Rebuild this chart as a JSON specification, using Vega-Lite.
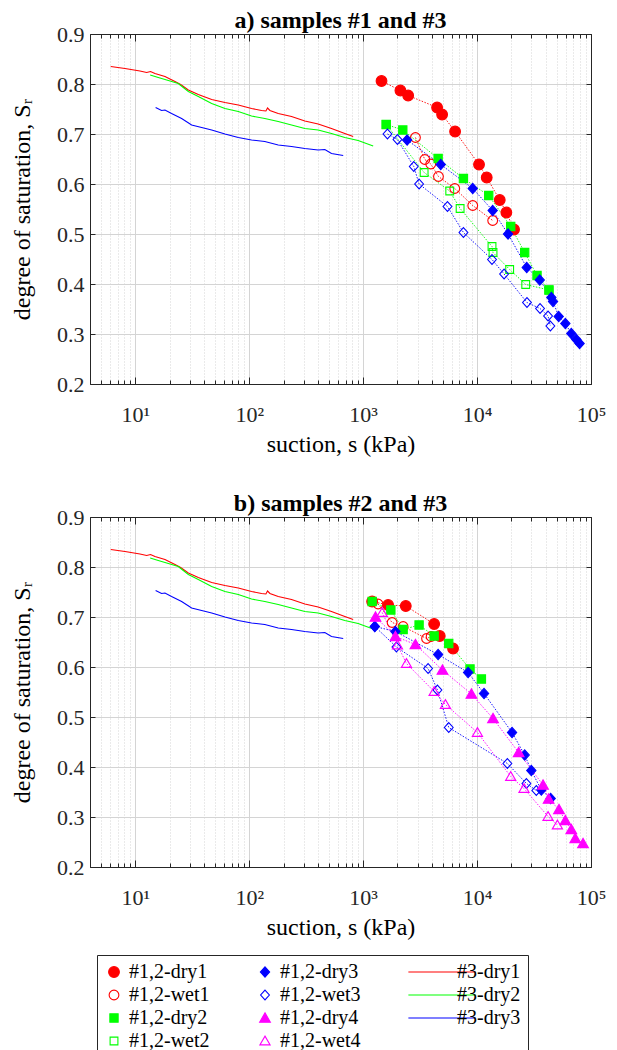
{
  "$schema": "https://vega.github.io/schema/vega-lite/v6.json",
  "background": "white",
  "padding": {"left": 10, "top": 8, "right": 5, "bottom": 5},
  "datasets": {
    "lab": [
      {"series": "#3-dry1", "s": 6.08, "Sr": 0.835}, {"series": "#3-dry1", "s": 8.11, "Sr": 0.831}, {"series": "#3-dry1", "s": 10.98, "Sr": 0.826}, {"series": "#3-dry1", "s": 12.57, "Sr": 0.823}, {"series": "#3-dry1", "s": 13.6, "Sr": 0.825}, {"series": "#3-dry1", "s": 14.87, "Sr": 0.821}, {"series": "#3-dry1", "s": 18.2, "Sr": 0.815}, {"series": "#3-dry1", "s": 22.3, "Sr": 0.805}, {"series": "#3-dry1", "s": 25.0, "Sr": 0.799}, {"series": "#3-dry1", "s": 29.2, "Sr": 0.788}, {"series": "#3-dry1", "s": 35.7, "Sr": 0.779}, {"series": "#3-dry1", "s": 46.8, "Sr": 0.769}, {"series": "#3-dry1", "s": 61.2, "Sr": 0.763}, {"series": "#3-dry1", "s": 80.1, "Sr": 0.758}, {"series": "#3-dry1", "s": 104.8, "Sr": 0.751}, {"series": "#3-dry1", "s": 128.2, "Sr": 0.747}, {"series": "#3-dry1", "s": 140, "Sr": 0.746}, {"series": "#3-dry1", "s": 144.8, "Sr": 0.752}, {"series": "#3-dry1", "s": 151.8, "Sr": 0.747}, {"series": "#3-dry1", "s": 179.6, "Sr": 0.741}, {"series": "#3-dry1", "s": 235, "Sr": 0.735}, {"series": "#3-dry1", "s": 307.7, "Sr": 0.726}, {"series": "#3-dry1", "s": 402.7, "Sr": 0.720}, {"series": "#3-dry1", "s": 527, "Sr": 0.711}, {"series": "#3-dry1", "s": 690, "Sr": 0.701}, {"series": "#3-dry1", "s": 817, "Sr": 0.695},
      {"series": "#3-dry2", "s": 13.5, "Sr": 0.818}, {"series": "#3-dry2", "s": 15.9, "Sr": 0.813}, {"series": "#3-dry2", "s": 19.5, "Sr": 0.807}, {"series": "#3-dry2", "s": 23.8, "Sr": 0.801}, {"series": "#3-dry2", "s": 29.2, "Sr": 0.785}, {"series": "#3-dry2", "s": 35.7, "Sr": 0.775}, {"series": "#3-dry2", "s": 46.8, "Sr": 0.761}, {"series": "#3-dry2", "s": 61.2, "Sr": 0.751}, {"series": "#3-dry2", "s": 80.1, "Sr": 0.745}, {"series": "#3-dry2", "s": 104.8, "Sr": 0.736}, {"series": "#3-dry2", "s": 137, "Sr": 0.731}, {"series": "#3-dry2", "s": 179.6, "Sr": 0.725}, {"series": "#3-dry2", "s": 235, "Sr": 0.718}, {"series": "#3-dry2", "s": 307.7, "Sr": 0.711}, {"series": "#3-dry2", "s": 402.7, "Sr": 0.708}, {"series": "#3-dry2", "s": 527, "Sr": 0.701}, {"series": "#3-dry2", "s": 690, "Sr": 0.693}, {"series": "#3-dry2", "s": 903, "Sr": 0.687}, {"series": "#3-dry2", "s": 1224, "Sr": 0.676},
      {"series": "#3-dry3", "s": 15.07, "Sr": 0.753}, {"series": "#3-dry3", "s": 17.0, "Sr": 0.747}, {"series": "#3-dry3", "s": 18.2, "Sr": 0.748}, {"series": "#3-dry3", "s": 20.8, "Sr": 0.741}, {"series": "#3-dry3", "s": 25.5, "Sr": 0.731}, {"series": "#3-dry3", "s": 31.2, "Sr": 0.718}, {"series": "#3-dry3", "s": 38.2, "Sr": 0.713}, {"series": "#3-dry3", "s": 46.8, "Sr": 0.708}, {"series": "#3-dry3", "s": 61.2, "Sr": 0.700}, {"series": "#3-dry3", "s": 80.1, "Sr": 0.693}, {"series": "#3-dry3", "s": 104.8, "Sr": 0.688}, {"series": "#3-dry3", "s": 137, "Sr": 0.685}, {"series": "#3-dry3", "s": 179.6, "Sr": 0.678}, {"series": "#3-dry3", "s": 235, "Sr": 0.675}, {"series": "#3-dry3", "s": 307.7, "Sr": 0.671}, {"series": "#3-dry3", "s": 402.7, "Sr": 0.668}, {"series": "#3-dry3", "s": 461, "Sr": 0.669}, {"series": "#3-dry3", "s": 527, "Sr": 0.661}, {"series": "#3-dry3", "s": 668, "Sr": 0.657}
    ],
    "pts": [
      {"panel": "a", "series": "#1,2-dry1", "i": 1, "s": 1449, "Sr": 0.806}, {"panel": "a", "series": "#1,2-dry1", "i": 2, "s": 2123, "Sr": 0.787}, {"panel": "a", "series": "#1,2-dry1", "i": 3, "s": 2483, "Sr": 0.777}, {"panel": "a", "series": "#1,2-dry1", "i": 4, "s": 4457, "Sr": 0.753}, {"panel": "a", "series": "#1,2-dry1", "i": 5, "s": 4932, "Sr": 0.739}, {"panel": "a", "series": "#1,2-dry1", "i": 6, "s": 6412, "Sr": 0.705}, {"panel": "a", "series": "#1,2-dry1", "i": 7, "s": 10400, "Sr": 0.639}, {"panel": "a", "series": "#1,2-dry1", "i": 8, "s": 12150, "Sr": 0.613}, {"panel": "a", "series": "#1,2-dry1", "i": 9, "s": 15810, "Sr": 0.568}, {"panel": "a", "series": "#1,2-dry1", "i": 10, "s": 18070, "Sr": 0.543}, {"panel": "a", "series": "#1,2-dry1", "i": 11, "s": 21100, "Sr": 0.509},
      {"panel": "a", "series": "#1,2-wet1", "i": 1, "s": 2877, "Sr": 0.693}, {"panel": "a", "series": "#1,2-wet1", "i": 2, "s": 3475, "Sr": 0.649}, {"panel": "a", "series": "#1,2-wet1", "i": 3, "s": 3920, "Sr": 0.640}, {"panel": "a", "series": "#1,2-wet1", "i": 4, "s": 4581, "Sr": 0.615}, {"panel": "a", "series": "#1,2-wet1", "i": 5, "s": 6368, "Sr": 0.591}, {"panel": "a", "series": "#1,2-wet1", "i": 6, "s": 9160, "Sr": 0.557}, {"panel": "a", "series": "#1,2-wet1", "i": 7, "s": 13710, "Sr": 0.527},
      {"panel": "a", "series": "#1,2-dry2", "i": 1, "s": 1592, "Sr": 0.719}, {"panel": "a", "series": "#1,2-dry2", "i": 2, "s": 2228, "Sr": 0.708}, {"panel": "a", "series": "#1,2-dry2", "i": 3, "s": 4550, "Sr": 0.651}, {"panel": "a", "series": "#1,2-dry2", "i": 4, "s": 7590, "Sr": 0.611}, {"panel": "a", "series": "#1,2-dry2", "i": 5, "s": 12650, "Sr": 0.577}, {"panel": "a", "series": "#1,2-dry2", "i": 6, "s": 19730, "Sr": 0.515}, {"panel": "a", "series": "#1,2-dry2", "i": 7, "s": 26180, "Sr": 0.463}, {"panel": "a", "series": "#1,2-dry2", "i": 8, "s": 33590, "Sr": 0.417}, {"panel": "a", "series": "#1,2-dry2", "i": 9, "s": 42760, "Sr": 0.388},
      {"panel": "a", "series": "#1,2-wet2", "i": 1, "s": 1592, "Sr": 0.719}, {"panel": "a", "series": "#1,2-wet2", "i": 2, "s": 3428, "Sr": 0.623}, {"panel": "a", "series": "#1,2-wet2", "i": 3, "s": 5754, "Sr": 0.586}, {"panel": "a", "series": "#1,2-wet2", "i": 4, "s": 7096, "Sr": 0.551}, {"panel": "a", "series": "#1,2-wet2", "i": 5, "s": 13520, "Sr": 0.475}, {"panel": "a", "series": "#1,2-wet2", "i": 6, "s": 13800, "Sr": 0.463}, {"panel": "a", "series": "#1,2-wet2", "i": 7, "s": 19320, "Sr": 0.429}, {"panel": "a", "series": "#1,2-wet2", "i": 8, "s": 26730, "Sr": 0.399}, {"panel": "a", "series": "#1,2-wet2", "i": 9, "s": 42760, "Sr": 0.388},
      {"panel": "a", "series": "#1,2-dry3", "i": 1, "s": 2432, "Sr": 0.688}, {"panel": "a", "series": "#1,2-dry3", "i": 2, "s": 4797, "Sr": 0.639}, {"panel": "a", "series": "#1,2-dry3", "i": 3, "s": 9160, "Sr": 0.591}, {"panel": "a", "series": "#1,2-dry3", "i": 4, "s": 13710, "Sr": 0.547}, {"panel": "a", "series": "#1,2-dry3", "i": 5, "s": 18700, "Sr": 0.500}, {"panel": "a", "series": "#1,2-dry3", "i": 6, "s": 27290, "Sr": 0.433}, {"panel": "a", "series": "#1,2-dry3", "i": 7, "s": 35480, "Sr": 0.408}, {"panel": "a", "series": "#1,2-dry3", "i": 8, "s": 44870, "Sr": 0.373}, {"panel": "a", "series": "#1,2-dry3", "i": 9, "s": 46420, "Sr": 0.365}, {"panel": "a", "series": "#1,2-dry3", "i": 10, "s": 52050, "Sr": 0.335}, {"panel": "a", "series": "#1,2-dry3", "i": 11, "s": 59540, "Sr": 0.321}, {"panel": "a", "series": "#1,2-dry3", "i": 12, "s": 67140, "Sr": 0.301}, {"panel": "a", "series": "#1,2-dry3", "i": 13, "s": 74300, "Sr": 0.289}, {"panel": "a", "series": "#1,2-dry3", "i": 14, "s": 79430, "Sr": 0.281},
      {"panel": "a", "series": "#1,2-wet3", "i": 1, "s": 1634, "Sr": 0.700}, {"panel": "a", "series": "#1,2-wet3", "i": 2, "s": 2000, "Sr": 0.689}, {"panel": "a", "series": "#1,2-wet3", "i": 3, "s": 2781, "Sr": 0.635}, {"panel": "a", "series": "#1,2-wet3", "i": 4, "s": 3097, "Sr": 0.600}, {"panel": "a", "series": "#1,2-wet3", "i": 5, "s": 5495, "Sr": 0.555}, {"panel": "a", "series": "#1,2-wet3", "i": 6, "s": 7590, "Sr": 0.503}, {"panel": "a", "series": "#1,2-wet3", "i": 7, "s": 13520, "Sr": 0.449}, {"panel": "a", "series": "#1,2-wet3", "i": 8, "s": 17260, "Sr": 0.420}, {"panel": "a", "series": "#1,2-wet3", "i": 9, "s": 27420, "Sr": 0.363}, {"panel": "a", "series": "#1,2-wet3", "i": 10, "s": 35700, "Sr": 0.351}, {"panel": "a", "series": "#1,2-wet3", "i": 11, "s": 41980, "Sr": 0.336}, {"panel": "a", "series": "#1,2-wet3", "i": 12, "s": 43990, "Sr": 0.316},
      {"panel": "b", "series": "#1,2-dry1", "i": 1, "s": 1199, "Sr": 0.731}, {"panel": "b", "series": "#1,2-dry1", "i": 2, "s": 1656, "Sr": 0.724}, {"panel": "b", "series": "#1,2-dry1", "i": 3, "s": 2366, "Sr": 0.722}, {"panel": "b", "series": "#1,2-dry1", "i": 4, "s": 4198, "Sr": 0.686}, {"panel": "b", "series": "#1,2-dry1", "i": 5, "s": 4702, "Sr": 0.662}, {"panel": "b", "series": "#1,2-dry1", "i": 6, "s": 6151, "Sr": 0.637},
      {"panel": "b", "series": "#1,2-wet1", "i": 1, "s": 1352, "Sr": 0.726}, {"panel": "b", "series": "#1,2-wet1", "i": 2, "s": 1795, "Sr": 0.689}, {"panel": "b", "series": "#1,2-wet1", "i": 3, "s": 2243, "Sr": 0.681}, {"panel": "b", "series": "#1,2-wet1", "i": 4, "s": 3600, "Sr": 0.657}, {"panel": "b", "series": "#1,2-wet1", "i": 5, "s": 3950, "Sr": 0.661},
      {"panel": "b", "series": "#1,2-dry2", "i": 1, "s": 1199, "Sr": 0.731}, {"panel": "b", "series": "#1,2-dry2", "i": 2, "s": 1750, "Sr": 0.714}, {"panel": "b", "series": "#1,2-dry2", "i": 3, "s": 2243, "Sr": 0.675}, {"panel": "b", "series": "#1,2-dry2", "i": 4, "s": 3097, "Sr": 0.684}, {"panel": "b", "series": "#1,2-dry2", "i": 5, "s": 4198, "Sr": 0.662}, {"panel": "b", "series": "#1,2-dry2", "i": 6, "s": 5640, "Sr": 0.647}, {"panel": "b", "series": "#1,2-dry2", "i": 7, "s": 8670, "Sr": 0.596}, {"panel": "b", "series": "#1,2-dry2", "i": 8, "s": 10910, "Sr": 0.576},
      {"panel": "b", "series": "#1,2-dry3", "i": 1, "s": 1265, "Sr": 0.681}, {"panel": "b", "series": "#1,2-dry3", "i": 2, "s": 1919, "Sr": 0.671}, {"panel": "b", "series": "#1,2-dry3", "i": 3, "s": 4550, "Sr": 0.625}, {"panel": "b", "series": "#1,2-dry3", "i": 4, "s": 8340, "Sr": 0.589}, {"panel": "b", "series": "#1,2-dry3", "i": 5, "s": 11510, "Sr": 0.547}, {"panel": "b", "series": "#1,2-dry3", "i": 6, "s": 20280, "Sr": 0.469}, {"panel": "b", "series": "#1,2-dry3", "i": 7, "s": 26180, "Sr": 0.424}, {"panel": "b", "series": "#1,2-dry3", "i": 8, "s": 29930, "Sr": 0.393}, {"panel": "b", "series": "#1,2-dry3", "i": 9, "s": 36640, "Sr": 0.354}, {"panel": "b", "series": "#1,2-dry3", "i": 10, "s": 44260, "Sr": 0.337},
      {"panel": "b", "series": "#1,2-wet3", "i": 1, "s": 1265, "Sr": 0.681}, {"panel": "b", "series": "#1,2-wet3", "i": 2, "s": 1958, "Sr": 0.640}, {"panel": "b", "series": "#1,2-wet3", "i": 3, "s": 3715, "Sr": 0.597}, {"panel": "b", "series": "#1,2-wet3", "i": 4, "s": 4487, "Sr": 0.554}, {"panel": "b", "series": "#1,2-wet3", "i": 5, "s": 5640, "Sr": 0.479}, {"panel": "b", "series": "#1,2-wet3", "i": 6, "s": 18450, "Sr": 0.407}, {"panel": "b", "series": "#1,2-wet3", "i": 7, "s": 27100, "Sr": 0.367}, {"panel": "b", "series": "#1,2-wet3", "i": 8, "s": 33110, "Sr": 0.353},
      {"panel": "b", "series": "#1,2-dry4", "i": 1, "s": 1283, "Sr": 0.700}, {"panel": "b", "series": "#1,2-dry4", "i": 2, "s": 1919, "Sr": 0.661}, {"panel": "b", "series": "#1,2-dry4", "i": 3, "s": 2877, "Sr": 0.645}, {"panel": "b", "series": "#1,2-dry4", "i": 4, "s": 4966, "Sr": 0.594}, {"panel": "b", "series": "#1,2-dry4", "i": 5, "s": 8913, "Sr": 0.546}, {"panel": "b", "series": "#1,2-dry4", "i": 6, "s": 13800, "Sr": 0.497}, {"panel": "b", "series": "#1,2-dry4", "i": 7, "s": 23170, "Sr": 0.429}, {"panel": "b", "series": "#1,2-dry4", "i": 8, "s": 37930, "Sr": 0.364}, {"panel": "b", "series": "#1,2-dry4", "i": 9, "s": 42460, "Sr": 0.336}, {"panel": "b", "series": "#1,2-dry4", "i": 10, "s": 52360, "Sr": 0.315}, {"panel": "b", "series": "#1,2-dry4", "i": 11, "s": 59540, "Sr": 0.293}, {"panel": "b", "series": "#1,2-dry4", "i": 12, "s": 67140, "Sr": 0.275}, {"panel": "b", "series": "#1,2-dry4", "i": 13, "s": 72780, "Sr": 0.257}, {"panel": "b", "series": "#1,2-dry4", "i": 14, "s": 85110, "Sr": 0.247},
      {"panel": "b", "series": "#1,2-wet4", "i": 1, "s": 1469, "Sr": 0.709}, {"panel": "b", "series": "#1,2-wet4", "i": 2, "s": 2000, "Sr": 0.644}, {"panel": "b", "series": "#1,2-wet4", "i": 3, "s": 2399, "Sr": 0.607}, {"panel": "b", "series": "#1,2-wet4", "i": 4, "s": 4198, "Sr": 0.551}, {"panel": "b", "series": "#1,2-wet4", "i": 5, "s": 5272, "Sr": 0.525}, {"panel": "b", "series": "#1,2-wet4", "i": 6, "s": 10070, "Sr": 0.469}, {"panel": "b", "series": "#1,2-wet4", "i": 7, "s": 19730, "Sr": 0.381}, {"panel": "b", "series": "#1,2-wet4", "i": 8, "s": 25820, "Sr": 0.357}, {"panel": "b", "series": "#1,2-wet4", "i": 9, "s": 41980, "Sr": 0.301}, {"panel": "b", "series": "#1,2-wet4", "i": 10, "s": 50700, "Sr": 0.284}
    ]
  },
  "spacing": 34,
  "vconcat": [
    {
      "width": 501, "height": 350,
      "title": {"text": "a) samples #1 and #3"},
      "resolve": {"axis": {"x": "independent", "y": "independent"}},
      "layer": [
        {
          "data": {"name": "lab"},
          "mark": {"type": "line", "strokeWidth": 1.1},
          "encoding": {
            "x": {"field": "s", "type": "quantitative", "scale": {"type": "log", "domain": [4, 100000], "nice": false},
              "axis": {"orient": "bottom", "title": "suction, s (kPa)", "values": [5,6,7,8,9,10,20,30,40,50,60,70,80,90,100,200,300,400,500,600,700,800,900,1000,2000,3000,4000,5000,6000,7000,8000,9000,10000,20000,30000,40000,50000,60000,70000,80000,90000,100000],
                "labelExpr": "datum.value==10?'10¹':datum.value==100?'10²':datum.value==1000?'10³':datum.value==10000?'10⁴':datum.value==100000?'10⁵':''",
                "grid": true, "gridDash": {"condition": {"test": "datum.value==10||datum.value==100||datum.value==1000||datum.value==10000||datum.value==100000", "value": []}, "value": [1, 2]},
                "tickSize": {"condition": {"test": "datum.value==10||datum.value==100||datum.value==1000||datum.value==10000||datum.value==100000", "value": -7}, "value": -4},
                "labelPadding": 27, "titlePadding": 4, "labelOverlap": false, "labelFlush": false, "labelBound": false}},
            "y": {"field": "Sr", "type": "quantitative", "scale": {"domain": [0.2, 0.9], "nice": false, "zero": false},
              "axis": {"orient": "left", "title": "degree of saturation, Sᵣ", "values": [0.2,0.3,0.4,0.5,0.6,0.7,0.8,0.9], "format": ".1f", "grid": true, "tickSize": -5, "labelPadding": 11, "titlePadding": 22}},
            "color": {"field": "series", "type": "nominal", "legend": {"title": null},
              "scale": {"domain": ["#1,2-dry1","#1,2-wet1","#1,2-dry2","#1,2-wet2","#1,2-dry3","#1,2-wet3","#1,2-dry4","#1,2-wet4","#3-dry1","#3-dry2","#3-dry3"],
                        "range": ["#ff0000","#ff0000","#00ff00","#00ff00","#0000ff","#0000ff","#ff00ff","#ff00ff","#ff0000","#00ff00","#0000ff"]}}
          }
        },
        {
          "data": {"name": "pts"},
          "transform": [{"filter": "datum.panel=='a'"}],
          "mark": {"type": "line", "strokeWidth": 0.9, "strokeDash": [1.5, 1.5]},
          "encoding": {
            "x": {"field": "s", "type": "quantitative", "scale": {"type": "log", "domain": [4, 100000], "nice": false},
              "axis": {"orient": "top", "title": null, "labels": false, "grid": false, "values": [5,6,7,8,9,10,20,30,40,50,60,70,80,90,100,200,300,400,500,600,700,800,900,1000,2000,3000,4000,5000,6000,7000,8000,9000,10000,20000,30000,40000,50000,60000,70000,80000,90000,100000],
                "tickSize": {"condition": {"test": "datum.value==10||datum.value==100||datum.value==1000||datum.value==10000||datum.value==100000", "value": -7}, "value": -4}}},
            "y": {"field": "Sr", "type": "quantitative", "scale": {"domain": [0.2, 0.9], "nice": false, "zero": false},
              "axis": {"orient": "right", "title": null, "labels": false, "grid": false, "values": [0.2,0.3,0.4,0.5,0.6,0.7,0.8,0.9], "tickSize": -5}},
            "color": {"field": "series", "type": "nominal", "legend": {"title": null}},
            "order": {"field": "i", "type": "quantitative"}
          }
        },
        {
          "data": {"name": "pts"},
          "transform": [{"filter": "datum.panel=='a'"}],
          "mark": {"type": "point", "filled": false, "strokeWidth": 1.1, "opacity": 1, "size": 95},
          "encoding": {
            "x": {"field": "s", "type": "quantitative", "scale": {"type": "log", "domain": [4, 100000], "nice": false}, "axis": null},
            "y": {"field": "Sr", "type": "quantitative", "scale": {"domain": [0.2, 0.9], "nice": false, "zero": false}, "axis": null},
            "color": {"field": "series", "type": "nominal", "legend": {"title": null}},
            "shape": {"field": "series", "type": "nominal", "legend": {"title": null},
              "scale": {"domain": ["#1,2-dry1","#1,2-wet1","#1,2-dry2","#1,2-wet2","#1,2-dry3","#1,2-wet3","#1,2-dry4","#1,2-wet4","#3-dry1","#3-dry2","#3-dry3"],
                        "range": [
                          "M1.1,0A1.1,1.1 0 1,1 -1.1,0A1.1,1.1 0 1,1 1.1,0Z",
                          "M1,0A1,1 0 1,1 -1,0A1,1 0 1,1 1,0Z",
                          "M-0.85,-0.85H0.85V0.85H-0.85Z",
                          "M-0.8,-0.8H0.8V0.8H-0.8Z",
                          "M0,-1.05L0.95,0L0,1.05L-0.95,0Z",
                          "M0,-1L0.9,0L0,1L-0.9,0Z",
                          "M0,-1.05L1.1,0.85L-1.1,0.85Z",
                          "M0,-1L1.05,0.8L-1.05,0.8Z",
                          "M-6.9,0H6.9", "M-6.9,0H6.9", "M-6.9,0H6.9"]}},
            "fill": {"field": "series", "type": "nominal", "legend": {"title": null},
              "scale": {"domain": ["#1,2-dry1","#1,2-wet1","#1,2-dry2","#1,2-wet2","#1,2-dry3","#1,2-wet3","#1,2-dry4","#1,2-wet4","#3-dry1","#3-dry2","#3-dry3"],
                        "range": ["#ff0000","transparent","#00ff00","transparent","#0000ff","transparent","#ff00ff","transparent","transparent","transparent","transparent"]}}
          }
        }
      ]
    },
    {
      "width": 501, "height": 350,
      "title": {"text": "b) samples #2 and #3"},
      "resolve": {"axis": {"x": "independent", "y": "independent"}},
      "layer": [
        {
          "data": {"name": "lab"},
          "mark": {"type": "line", "strokeWidth": 1.1},
          "encoding": {
            "x": {"field": "s", "type": "quantitative", "scale": {"type": "log", "domain": [4, 100000], "nice": false},
              "axis": {"orient": "bottom", "title": "suction, s (kPa)", "values": [5,6,7,8,9,10,20,30,40,50,60,70,80,90,100,200,300,400,500,600,700,800,900,1000,2000,3000,4000,5000,6000,7000,8000,9000,10000,20000,30000,40000,50000,60000,70000,80000,90000,100000],
                "labelExpr": "datum.value==10?'10¹':datum.value==100?'10²':datum.value==1000?'10³':datum.value==10000?'10⁴':datum.value==100000?'10⁵':''",
                "grid": true, "gridDash": {"condition": {"test": "datum.value==10||datum.value==100||datum.value==1000||datum.value==10000||datum.value==100000", "value": []}, "value": [1, 2]},
                "tickSize": {"condition": {"test": "datum.value==10||datum.value==100||datum.value==1000||datum.value==10000||datum.value==100000", "value": -7}, "value": -4},
                "labelPadding": 27, "titlePadding": 4, "labelOverlap": false, "labelFlush": false, "labelBound": false}},
            "y": {"field": "Sr", "type": "quantitative", "scale": {"domain": [0.2, 0.9], "nice": false, "zero": false},
              "axis": {"orient": "left", "title": "degree of saturation, Sᵣ", "values": [0.2,0.3,0.4,0.5,0.6,0.7,0.8,0.9], "format": ".1f", "grid": true, "tickSize": -5, "labelPadding": 11, "titlePadding": 22}},
            "color": {"field": "series", "type": "nominal", "legend": {"title": null}}
          }
        },
        {
          "data": {"name": "pts"},
          "transform": [{"filter": "datum.panel=='b'"}],
          "mark": {"type": "line", "strokeWidth": 0.9, "strokeDash": [1.5, 1.5]},
          "encoding": {
            "x": {"field": "s", "type": "quantitative", "scale": {"type": "log", "domain": [4, 100000], "nice": false},
              "axis": {"orient": "top", "title": null, "labels": false, "grid": false, "values": [5,6,7,8,9,10,20,30,40,50,60,70,80,90,100,200,300,400,500,600,700,800,900,1000,2000,3000,4000,5000,6000,7000,8000,9000,10000,20000,30000,40000,50000,60000,70000,80000,90000,100000],
                "tickSize": {"condition": {"test": "datum.value==10||datum.value==100||datum.value==1000||datum.value==10000||datum.value==100000", "value": -7}, "value": -4}}},
            "y": {"field": "Sr", "type": "quantitative", "scale": {"domain": [0.2, 0.9], "nice": false, "zero": false},
              "axis": {"orient": "right", "title": null, "labels": false, "grid": false, "values": [0.2,0.3,0.4,0.5,0.6,0.7,0.8,0.9], "tickSize": -5}},
            "color": {"field": "series", "type": "nominal", "legend": {"title": null}},
            "order": {"field": "i", "type": "quantitative"}
          }
        },
        {
          "data": {"name": "pts"},
          "transform": [{"filter": "datum.panel=='b'"}],
          "mark": {"type": "point", "filled": false, "strokeWidth": 1.1, "opacity": 1, "size": 95},
          "encoding": {
            "x": {"field": "s", "type": "quantitative", "scale": {"type": "log", "domain": [4, 100000], "nice": false}, "axis": null},
            "y": {"field": "Sr", "type": "quantitative", "scale": {"domain": [0.2, 0.9], "nice": false, "zero": false}, "axis": null},
            "color": {"field": "series", "type": "nominal", "legend": {"title": null}},
            "shape": {"field": "series", "type": "nominal", "legend": {"title": null}},
            "fill": {"field": "series", "type": "nominal", "legend": {"title": null}}
          }
        }
      ]
    }
  ],
  "config": {
    "view": {"stroke": "#262626", "strokeWidth": 1},
    "font": "Liberation Serif",
    "title": {"font": "Liberation Serif", "fontSize": 24, "fontWeight": "bold", "color": "black", "offset": -10, "anchor": "middle"},
    "axis": {"labelFont": "Liberation Serif", "titleFont": "Liberation Serif", "labelFontSize": 22, "titleFontSize": 24, "titleFontWeight": "normal", "labelColor": "#262626", "titleColor": "black", "domainColor": "#262626", "tickColor": "#262626", "domainWidth": 1, "tickWidth": 1, "gridColor": "#d4d4d4", "gridWidth": 1, "gridOpacity": 1},
    "legend": {"orient": "none", "legendX": 7, "legendY": 921, "columns": 3, "columnPadding": 45, "rowPadding": 3, "labelFont": "Liberation Serif", "labelFontSize": 20, "labelColor": "black", "labelOffset": 5, "labelLimit": 0, "strokeColor": "#262626", "padding": 7, "fillColor": "white", "symbolSize": 95, "symbolStrokeWidth": 1.1, "symbolOpacity": 1}
  }
}
